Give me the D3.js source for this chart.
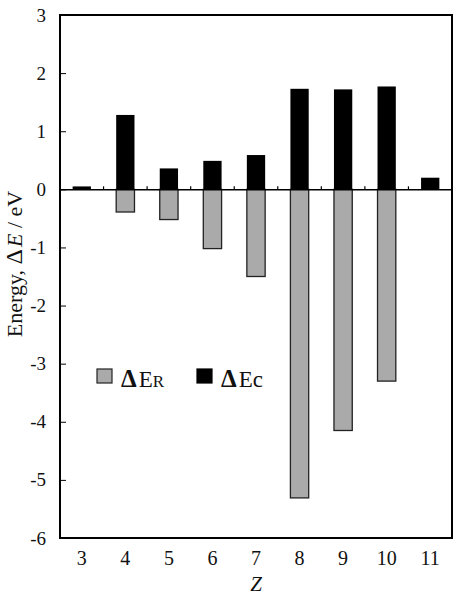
<!DOCTYPE html>
<html>
<head>
<meta charset="utf-8">
<script src="https://cdn.jsdelivr.net/npm/d3@7"></script>
<style>
  body { margin: 0; background: #fff; }
</style>
</head>
<body>
<script>
w = 464;
h = 596;

categories = [3, 4, 5, 6, 7, 8, 9, 10, 11];
deltaER = [0, -0.39, -0.52, -1.02, -1.5, -5.31, -4.15, -3.3, 0];
deltaEC = [0.05, 1.28, 0.36, 0.49, 0.59, 1.73, 1.72, 1.77, 0.2];
yTicks = [3, 2, 1, 0, -1, -2, -3, -4, -5, -6];

let serif = '"Liberation Serif", "Times New Roman", serif';
let plotLeft = 60, plotRight = 452, plotTop = 15, plotBottom = 538;

let xScale = d3.scaleBand()
  .domain(categories)
  .range([plotLeft, plotRight])
  .paddingInner(0.58)
  .paddingOuter(0.29);
let yScale = d3.scaleLinear()
  .domain([-6, 3])
  .range([plotBottom, plotTop]);

svg = d3.select('body')
  .append('svg')
  .attr('width', w)
  .attr('height', h);

// gray bars (negative)
svg.selectAll('rect.er')
  .data(categories.map((c, i) => [c, deltaER[i]]).filter(d => d[1] !== 0))
  .enter()
  .append('rect')
  .attr('class', 'er')
  .attr('x', d => xScale(d[0]))
  .attr('width', xScale.bandwidth())
  .attr('y', d => yScale(Math.max(0, d[1])))
  .attr('height', d => Math.abs(yScale(d[1]) - yScale(0)))
  .attr('fill', '#aaaaaa')
  .attr('stroke', '#222')
  .attr('stroke-width', 1.3);

// black bars (positive)
svg.selectAll('rect.ec')
  .data(categories.map((c, i) => [c, deltaEC[i]]))
  .enter()
  .append('rect')
  .attr('class', 'ec')
  .attr('x', d => xScale(d[0]))
  .attr('width', xScale.bandwidth())
  .attr('y', d => yScale(d[1]))
  .attr('height', d => yScale(0) - yScale(d[1]))
  .attr('fill', '#000');

// zero line with small ticks between categories
let zeroAxis = d3.axisTop(xScale)
  .tickSize(0)
  .tickFormat('');
svg.append('g')
  .attr('transform', `translate(0, ${yScale(0)})`)
  .call(zeroAxis)
  .call(g => g.select('.domain').attr('stroke-width', 1.5));
svg.append('g')
  .selectAll('line')
  .data(categories.slice(1))
  .enter()
  .append('line')
  .attr('x1', d => xScale(d) - xScale.step() * xScale.paddingInner() / 2)
  .attr('x2', d => xScale(d) - xScale.step() * xScale.paddingInner() / 2)
  .attr('y1', yScale(0))
  .attr('y2', yScale(0) - 3)
  .attr('stroke', '#000')
  .attr('stroke-width', 1.2);

// y axis, ticks inward
let yAxis = d3.axisLeft(yScale)
  .tickValues(yTicks)
  .tickSize(-6)
  .tickPadding(14)
  .tickFormat(d => d);
svg.append('g')
  .attr('transform', `translate(${plotLeft}, 0)`)
  .call(yAxis)
  .call(g => g.select('.domain').remove())
  .call(g => g.selectAll('text')
    .style('font-family', serif)
    .style('font-size', '19px')
    .attr('fill', '#111'));

// x axis labels
let xAxis = d3.axisBottom(xScale)
  .tickSize(0)
  .tickPadding(13);
svg.append('g')
  .attr('transform', `translate(0, ${plotBottom})`)
  .call(xAxis)
  .call(g => g.select('.domain').remove())
  .call(g => g.selectAll('text')
    .style('font-family', serif)
    .style('font-size', '20px')
    .attr('fill', '#111'));

// frame
svg.append('rect')
  .attr('x', plotLeft)
  .attr('y', plotTop)
  .attr('width', plotRight - plotLeft)
  .attr('height', plotBottom - plotTop)
  .attr('fill', 'none')
  .attr('stroke', '#000')
  .attr('stroke-width', 2);

// axis titles
svg.append('text')
  .attr('x', (plotLeft + plotRight) / 2)
  .attr('y', 591)
  .attr('text-anchor', 'middle')
  .style('font-family', serif)
  .style('font-size', '21px')
  .style('font-style', 'italic')
  .attr('fill', '#111')
  .text('Z');

let yt = svg.append('text')
  .attr('transform', `translate(22, 264) rotate(-90)`)
  .attr('text-anchor', 'middle')
  .style('font-family', serif)
  .style('font-size', '22px')
  .attr('fill', '#111');
yt.append('tspan').text('Energy,  ');
yt.append('tspan').style('font-size', '24px').text('Δ');
yt.append('tspan').attr('dx', 2).style('font-style', 'italic').text('E');
yt.append('tspan').text(' / eV');

// legend
let legend = [
  { fill: '#aaaaaa', stroke: '#222', sub: 'R', x: 97 },
  { fill: '#000', stroke: '#000', sub: 'c', x: 197 }
];
let lg = svg.append('g').selectAll('g')
  .data(legend)
  .enter()
  .append('g')
  .attr('transform', d => `translate(${d.x}, 369)`);
lg.append('rect')
  .attr('width', 15)
  .attr('height', 14)
  .attr('fill', d => d.fill)
  .attr('stroke', d => d.stroke)
  .attr('stroke-width', 1.2);
let lt = lg.append('text')
  .attr('x', 24)
  .attr('y', 18)
  .style('font-family', serif)
  .style('font-size', '23px')
  .attr('fill', '#111');
lt.append('tspan').style('font-weight', 'bold').style('font-size', '25px').text('Δ');
lt.append('tspan').attr('dx', 2).text('E');
lt.append('tspan').style('font-size', d => d.sub === 'R' ? '17px' : '23px').text(d => d.sub);
</script>
</body>
</html>
